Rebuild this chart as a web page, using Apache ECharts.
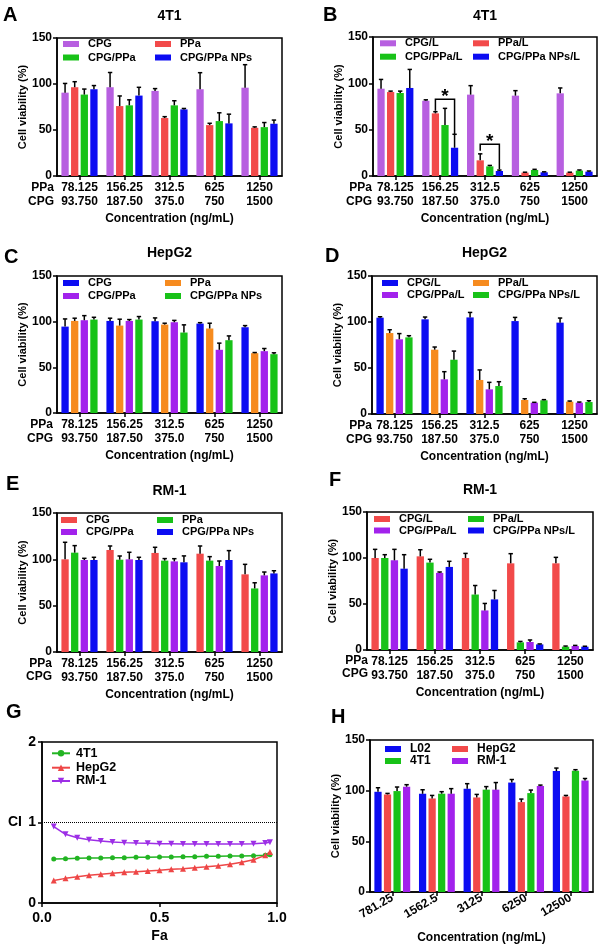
<!DOCTYPE html>
<html><head><meta charset="utf-8">
<script src="https://cdn.jsdelivr.net/npm/echarts@6/dist/echarts.min.js"></script>
<style>html,body{margin:0;padding:0;background:#fff;width:603px;height:948px;overflow:hidden}
.p{position:absolute;left:0;top:0;width:603px;height:948px}</style>
</head><body>
<script>
const FONT = '"Liberation Sans", Arial, sans-serif';
// ---------- shared tick labels ----------
const ppaLabels = ['78.125','156.25','312.5','625','1250'];
const cpgLabels = ['93.750','187.50','375.0','750','1500'];
const hLabels = ['781.25','1562.5','3125','6250','12500'];
// ---------- Panel A (4T1) ----------
const aCPG = [90.6, 96.5, 92.5, 94.3, 96.0];      const aCPGErr = [10, 16, 2.5, 18, 25];
const aPPa = [96.5, 76.0, 63.0, 55.3, 52.4];      const aPPaErr = [6, 11, 1.5, 2, 1];
const aCPGPPa = [88.5, 76.8, 76.8, 59.7, 53.1];   const aCPGPPaErr = [6, 6, 5, 9, 5];
const aNPs = [94.3, 87.4, 72.4, 57.2, 56.8];      const aNPsErr = [4, 9, 1, 10, 4];
// ---------- Panel B (4T1, laser) ----------
const bCPG = [94.2, 81.2, 87.8, 86.7, 89.2];      const bCPGErr = [10, 1, 9.7, 5.4, 5.8];
const bPPa = [90.6, 67.6, 16.9, 3.6, 3.6];        const bPPaErr = [1, 1.8, 7, 0.5, 0.5];
const bCPGPPa = [89.6, 55.0, 10.4, 6.5, 5.8];     const bCPGPPaErr = [2, 18, 1, 0.7, 0.7];
const bNPs = [95.0, 30.5, 5.4, 4.0, 4.7];         const bNPsErr = [20, 14.5, 1, 0.5, 0.7];
// significance brackets: [category, left bar, right bar, top, left end, right end]
const bBrackets = [[1, 1, 3, 82.7, 70.4, 44.2], [2, 1, 3, 34.2, 27.3, 7.2]];
// ---------- Panel C (HepG2) ----------
const cCPG = [94.6, 100.8, 100.5, 97.9, 93.9];    const cCPGErr = [8.4, 3, 3.6, 1, 1.8];
const cPPa = [100.8, 95.7, 96.8, 92.5, 65.5];     const cPPaErr = [3, 7, 1.5, 5.8, 0.7];
const cCPGPPa = [101.6, 100.8, 99.4, 69.2, 67.7]; const cCPGPPaErr = [5, 1.5, 2, 7.3, 2.9];
const cNPs = [102.3, 102.3, 88.1, 79.7, 64.4];    const cNPsErr = [2.5, 3.3, 8.4, 4.7, 1.5];
// ---------- Panel D (HepG2, laser) ----------
const dCPG = [104.7, 102.9, 105.0, 101.0, 99.3];  const dCPGErr = [1, 2.5, 5.4, 4, 5];
const dPPa = [88.0, 69.9, 37.0, 15.2, 13.4];      const dPPaErr = [3.6, 2.9, 10.9, 1.4, 0.7];
const dCPGPPa = [81.2, 37.7, 26.8, 12.3, 12.3];   const dCPGPPaErr = [6.2, 8.3, 7.6, 0.4, 0.7];
const dNPs = [83.3, 59.0, 30.4, 14.9, 13.0];      const dNPsErr = [1.8, 9.4, 4.7, 0.7, 1.4];
// ---------- Panel E (RM-1) ----------
const eCPG = [100, 110.1, 106.9, 106.1, 83.8];    const eCPGErr = [18.4, 4.3, 6.1, 8.3, 10.8];
const ePPa = [107.2, 99.6, 98.6, 98.6, 68.6];     const ePPaErr = [7.6, 4, 2.2, 4.3, 6.1];
const eCPGPPa = [99.3, 100, 97.8, 92.8, 82.7];    const eCPGPPaErr = [1.8, 7.6, 2.9, 5.4, 3.6];
const eNPs = [99.3, 99.3, 96.8, 99.3, 84.8];      const eNPsErr = [2.9, 2.9, 6.9, 10.1, 2.9];
// ---------- Panel F (RM-1, laser) ----------
const fCPG = [100, 101.8, 100, 94.2, 94.2];       const fCPGErr = [9.4, 7.2, 5, 10.5, 6.5];
const fPPa = [100, 95, 60.3, 8.3, 3.6];           const fPPaErr = [3.6, 3.6, 9.8, 1, 0.7];
const fCPGPPa = [97.5, 83.8, 43, 8.7, 4.3];       const fCPGPPaErr = [11.9, 1, 7.6, 2.2, 0.7];
const fNPs = [88.4, 90.3, 55, 6.1, 3.6];          const fNPsErr = [15.2, 6.1, 9.7, 0.5, 0.5];
// ---------- Panel G (CI vs Fa) ----------
const gFa = [0.05,0.10,0.15,0.20,0.25,0.30,0.35,0.40,0.45,0.50,0.55,0.60,0.65,0.70,0.75,0.80,0.85,0.90,0.95,0.97];
const g4T1 = [0.547,0.551,0.555,0.559,0.559,0.563,0.563,0.567,0.567,0.571,0.571,0.576,0.576,0.580,0.580,0.584,0.584,0.588,0.592,0.600];
const gHepG2 = [0.280,0.306,0.327,0.344,0.356,0.369,0.381,0.389,0.398,0.406,0.418,0.426,0.439,0.451,0.464,0.480,0.505,0.538,0.592,0.634];
const gRM1 = [0.950,0.853,0.810,0.787,0.770,0.758,0.750,0.745,0.741,0.737,0.735,0.733,0.733,0.733,0.733,0.733,0.733,0.737,0.745,0.754];
// ---------- Panel H (normal cells) ----------
const hL02 = [98.9, 96.9, 101.9, 108.0, 119.3];   const hL02Err = [4, 4, 5, 3, 3];
const hHepG2 = [96.3, 92.3, 93.3, 88.7, 94.3];    const hHepG2Err = [1, 3, 3, 3, 1];
const h4T1 = [99.6, 97.0, 101.0, 97.6, 119.7];    const h4T1Err = [4, 2, 3, 3, 1];
const hRM1 = [103.9, 97.0, 101.0, 104.5, 110.0];  const hRM1Err = [2, 5, 7, 1, 2];

// ---------- colours ----------
const PURPLE_L = '#b75fe0', RED = '#f24a4a', GREEN = '#18c218', BLUE = '#0c0cf2', ORANGE = '#f68b1f', PURPLE = '#a222ec';

function makeChart(){
  const el = document.createElement('div'); el.className = 'p'; document.body.appendChild(el);
  return echarts.init(el, null, {renderer:'canvas', width:603, height:948});
}
function txt(text, x, y, size, align){
  const a = align || 'center';
  return {type:'text', x:x, y:y, silent:true, z:10,
    style:{text:text, fill:'#000', font:'bold ' + size + 'px ' + FONT, align:a, verticalAlign:'middle', textAlign:a, textVerticalAlign:'middle'}};
}
function legendItem(name, x, yc, size){
  return {data:[name], left:x, top:yc - 7, padding:0, itemGap:0, itemWidth:16, itemHeight:6, icon:'rect', selectedMode:false,
    textStyle:{color:'#000', fontFamily:FONT, fontWeight:'bold', fontSize:size || 11, lineHeight:14, padding:[0,0,0,4]}};
}
const axLine = {show:true, lineStyle:{color:'#000', width:1.5}};
const axTick = {show:true, length:4, lineStyle:{color:'#000', width:1.5}};
const lblStyle = {color:'#000', fontFamily:FONT, fontWeight:'bold', fontSize:12};

const BW = 0.162, GAP = 0.32;
function barX(api, i, k, n){
  const band = api.size([1, 0])[0];
  const bw = band * BW, gap = bw * GAP, total = n * bw + (n - 1) * gap;
  const c = api.coord([i, 0]);
  return {x: c[0] - total / 2 + k * (bw + gap) + bw / 2, bw: bw};
}

function barPanel(o){
  const chart = makeChart();
  const n = o.series.length;
  const series = o.series.map(s => ({type:'bar', name:s.name, data:s.values, barWidth:(BW * 100) + '%', barGap:(GAP * 100) + '%',
    itemStyle:{color:s.color}, silent:true, z:2}));
  const errData = [];
  o.series.forEach((s, k) => s.values.forEach((v, i) => errData.push([i, v, s.errs[i], k])));
  series.push({type:'custom', silent:true, z:3, encode:{x:0, y:1}, data:errData,
    renderItem:function(p, api){
      const i = api.value(0), v = api.value(1), e = api.value(2), k = api.value(3);
      const b = barX(api, i, k, n);
      const y0 = api.coord([i, v])[1], yt = api.coord([i, v + e])[1];
      const cw = b.bw * 0.3;
      return {type:'group', children:[
        {type:'line', shape:{x1:b.x, y1:y0, x2:b.x, y2:yt}, style:{stroke:'#000', lineWidth:1.5}},
        {type:'line', shape:{x1:b.x - cw, y1:yt, x2:b.x + cw, y2:yt}, style:{stroke:'#000', lineWidth:1.5}}
      ]};
    }});
  if (o.brackets){
    series.push({type:'custom', silent:true, z:4, encode:{x:0, y:3}, data:o.brackets,
      renderItem:function(p, api){
        const i = api.value(0), kl = api.value(1), kr = api.value(2);
        const xl = barX(api, i, kl, n).x, xr = barX(api, i, kr, n).x;
        const yt = api.coord([i, api.value(3)])[1], yl = api.coord([i, api.value(4)])[1], yr = api.coord([i, api.value(5)])[1];
        return {type:'group', children:[
          {type:'polyline', shape:{points:[[xl, yl], [xl, yt], [xr, yt], [xr, yr]]}, style:{stroke:'#000', lineWidth:1.5, fill:null}},
          {type:'text', x:(xl + xr) / 2, y:yt - 3, style:{text:'*', fill:'#000', font:'bold 19px ' + FONT, align:'center', verticalAlign:'middle', textAlign:'center', textVerticalAlign:'middle'}}
        ]};
      }});
  }
  const g = o.grid;
  const graphics = [txt(o.letter, o.letterPos[0], o.letterPos[1], 20, 'left')];
  if (o.title) graphics.push(txt(o.title, g.left + g.width / 2, o.titleY, 14));
  if (o.rowLabels) o.rowLabels.forEach(r => graphics.push(txt(r[0], r[1], r[2], 12, 'right')));
  chart.setOption({
    animation:false,
    grid:{left:g.left, top:g.top, width:g.width, height:g.height, show:true, borderColor:'#000', borderWidth:1.5, outerBoundsMode:'none'},
    legend:o.legends,
    xAxis:{type:'category', data:o.cats, axisLine:axLine, axisTick:Object.assign({alignWithLabel:true}, axTick),
      axisLabel:Object.assign({interval:0, lineHeight:14, margin:5, rotate:o.rotate || 0}, lblStyle), splitLine:{show:false},
      name:'Concentration (ng/mL)', nameLocation:'middle', nameGap:o.xNameGap || 36, nameTextStyle:Object.assign({lineHeight:14}, lblStyle)},
    yAxis:{type:'value', min:0, max:150, interval:50, axisLine:axLine, axisTick:axTick, splitLine:{show:false},
      axisLabel:Object.assign({margin:5}, lblStyle),
      name:'Cell viability (%)', nameLocation:'middle', nameRotate:90, nameGap:o.yNameGap || 29,
      nameTextStyle:Object.assign({}, lblStyle, {fontSize:11})},
    graphic:graphics,
    series:series
  });
}
function twoRowCats(){ return ppaLabels.map((p, i) => p + '\n' + cpgLabels[i]); }

// ---- A ----
barPanel({letter:'A', letterPos:[3, 15], title:'4T1', titleY:16,
  grid:{left:57, top:38, width:225, height:138}, cats:twoRowCats(),
  rowLabels:[['PPa', 54, 188], ['CPG', 54, 202]],
  series:[{name:'CPG', values:aCPG, errs:aCPGErr, color:PURPLE_L}, {name:'PPa', values:aPPa, errs:aPPaErr, color:RED},
          {name:'CPG/PPa', values:aCPGPPa, errs:aCPGPPaErr, color:GREEN}, {name:'CPG/PPa NPs', values:aNPs, errs:aNPsErr, color:BLUE}],
  legends:[legendItem('CPG', 63, 44), legendItem('CPG/PPa', 63, 57.5), legendItem('PPa', 155, 44), legendItem('CPG/PPa NPs', 155, 57.5)]});
// ---- B ----
barPanel({letter:'B', letterPos:[323, 15], title:'4T1', titleY:16,
  grid:{left:373, top:37, width:224, height:139}, cats:twoRowCats(), brackets:bBrackets,
  rowLabels:[['PPa', 372, 188], ['CPG', 372, 202]],
  series:[{name:'CPG/L', values:bCPG, errs:bCPGErr, color:PURPLE_L}, {name:'PPa/L', values:bPPa, errs:bPPaErr, color:RED},
          {name:'CPG/PPa/L', values:bCPGPPa, errs:bCPGPPaErr, color:GREEN}, {name:'CPG/PPa NPs/L', values:bNPs, errs:bNPsErr, color:BLUE}],
  legends:[legendItem('CPG/L', 380, 43.3), legendItem('CPG/PPa/L', 380, 56.7), legendItem('PPa/L', 473, 43.3), legendItem('CPG/PPa NPs/L', 473, 56.7)]});
// ---- C ----
barPanel({letter:'C', letterPos:[4, 257], title:'HepG2', titleY:253,
  grid:{left:57, top:276, width:225, height:137}, cats:twoRowCats(),
  rowLabels:[['PPa', 53, 425], ['CPG', 53, 439]],
  series:[{name:'CPG', values:cCPG, errs:cCPGErr, color:BLUE}, {name:'PPa', values:cPPa, errs:cPPaErr, color:ORANGE},
          {name:'CPG/PPa', values:cCPGPPa, errs:cCPGPPaErr, color:PURPLE}, {name:'CPG/PPa NPs', values:cNPs, errs:cNPsErr, color:GREEN}],
  legends:[legendItem('CPG', 63, 283), legendItem('CPG/PPa', 63, 296), legendItem('PPa', 165, 283), legendItem('CPG/PPa NPs', 165, 296)]});
// ---- D ----
barPanel({letter:'D', letterPos:[325, 256], title:'HepG2', titleY:253,
  grid:{left:372, top:276, width:225, height:138}, cats:twoRowCats(),
  rowLabels:[['PPa', 372, 426], ['CPG', 372, 440]],
  series:[{name:'CPG/L', values:dCPG, errs:dCPGErr, color:BLUE}, {name:'PPa/L', values:dPPa, errs:dPPaErr, color:ORANGE},
          {name:'CPG/PPa/L', values:dCPGPPa, errs:dCPGPPaErr, color:PURPLE}, {name:'CPG/PPa NPs/L', values:dNPs, errs:dNPsErr, color:GREEN}],
  legends:[legendItem('CPG/L', 382, 283), legendItem('CPG/PPa/L', 382, 295), legendItem('PPa/L', 473, 283), legendItem('CPG/PPa NPs/L', 473, 295)]});
// ---- E ----
barPanel({letter:'E', letterPos:[6, 484], title:'RM-1', titleY:491,
  grid:{left:57, top:513, width:225, height:139}, cats:twoRowCats(),
  rowLabels:[['PPa', 52, 664], ['CPG', 52, 677]],
  series:[{name:'CPG', values:eCPG, errs:eCPGErr, color:RED}, {name:'PPa', values:ePPa, errs:ePPaErr, color:GREEN},
          {name:'CPG/PPa', values:eCPGPPa, errs:eCPGPPaErr, color:PURPLE}, {name:'CPG/PPa NPs', values:eNPs, errs:eNPsErr, color:BLUE}],
  legends:[legendItem('CPG', 61, 520), legendItem('CPG/PPa', 61, 532), legendItem('PPa', 157, 520), legendItem('CPG/PPa NPs', 157, 532)]});
// ---- F ----
barPanel({letter:'F', letterPos:[329, 480], title:'RM-1', titleY:490,
  grid:{left:367, top:512, width:226, height:138}, cats:twoRowCats(),
  rowLabels:[['PPa', 368, 661], ['CPG', 368, 674]],
  series:[{name:'CPG/L', values:fCPG, errs:fCPGErr, color:RED}, {name:'PPa/L', values:fPPa, errs:fPPaErr, color:GREEN},
          {name:'CPG/PPa/L', values:fCPGPPa, errs:fCPGPPaErr, color:PURPLE}, {name:'CPG/PPa NPs/L', values:fNPs, errs:fNPsErr, color:BLUE}],
  legends:[legendItem('CPG/L', 374, 519), legendItem('CPG/PPa/L', 374, 530.5), legendItem('PPa/L', 468, 519), legendItem('CPG/PPa NPs/L', 468, 530.5)]});
// ---- H ----
barPanel({letter:'H', letterPos:[331, 717], title:null,
  grid:{left:370, top:740, width:223, height:152}, cats:hLabels, rotate:30, xNameGap:39,
  series:[{name:'L02', values:hL02, errs:hL02Err, color:BLUE}, {name:'HepG2', values:hHepG2, errs:hHepG2Err, color:RED},
          {name:'4T1', values:h4T1, errs:h4T1Err, color:GREEN}, {name:'RM-1', values:hRM1, errs:hRM1Err, color:PURPLE}],
  legends:[legendItem('L02', 385, 749, 12), legendItem('4T1', 385, 761, 12), legendItem('HepG2', 452, 749, 12), legendItem('RM-1', 452, 761, 12)]});

// ---- G ----
(function(){
  const chart = makeChart();
  const gl = {color:'#000', fontFamily:FONT, fontWeight:'bold', fontSize:14};
  const mk = (name, vals, color, symbol, rot, size) => ({type:'line', name:name, data:gFa.map((x, i) => [x, vals[i]]),
    lineStyle:{color:color, width:1.5}, itemStyle:{color:color}, symbol:symbol, symbolRotate:rot, symbolSize:size, showSymbol:true, silent:true});
  const s1 = mk('4T1', g4T1, '#22b422', 'circle', 0, 5);
  s1.markLine = {silent:true, symbol:'none', label:{show:false}, lineStyle:{color:'#000', type:'dotted', width:1}, data:[{yAxis:1}]};
  const li = (name, yc) => ({data:[name], left:51, top:yc - 7, padding:0, itemGap:0, itemWidth:18, itemHeight:8, selectedMode:false,
    textStyle:{color:'#000', fontFamily:FONT, fontWeight:'bold', fontSize:12.5, lineHeight:14, padding:[0,0,0,1]}});
  chart.setOption({
    animation:false,
    grid:{left:42, top:742, width:235, height:161, show:true, borderColor:'#000', borderWidth:1.5, outerBoundsMode:'none'},
    legend:[li('4T1', 753.3), li('HepG2', 767.7), li('RM-1', 781)],
    xAxis:{type:'value', min:0, max:1, interval:0.5, axisLine:axLine, axisTick:axTick, splitLine:{show:false},
      axisLabel:Object.assign({margin:8, formatter:v => v.toFixed(1)}, gl),
      name:'Fa', nameLocation:'middle', nameGap:26, nameTextStyle:gl},
    yAxis:{type:'value', min:0, max:2, interval:1, axisLine:axLine, axisTick:axTick, splitLine:{show:false},
      axisLabel:Object.assign({margin:6}, gl),
      name:'CI', nameLocation:'middle', nameRotate:0, nameGap:20, nameTextStyle:gl},
    graphic:[txt('G', 6, 712, 20, 'left')],
    series:[s1, mk('HepG2', gHepG2, '#ee4646', 'triangle', 0, 6), mk('RM-1', gRM1, '#9d2fe6', 'triangle', 180, 6)]
  });
})();
</script>
</body></html>
